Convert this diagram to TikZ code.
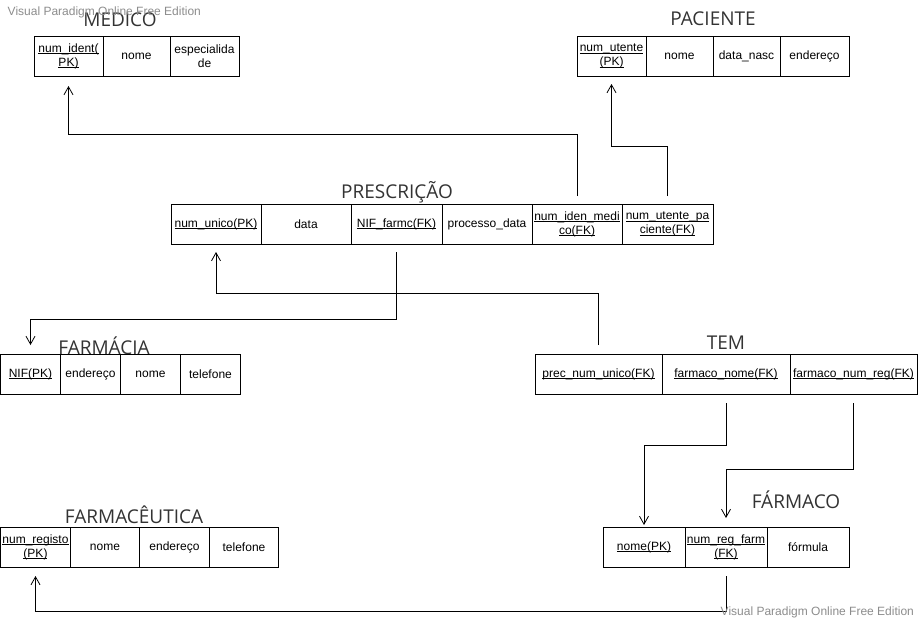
\documentclass[tikz,border=0pt]{standalone}
\usepackage{fontspec}
\setmainfont{Liberation Sans}
\newfontfamily\titlefont{Open Sans}
\usepackage{tikz}
\usetikzlibrary{positioning, arrows.meta}

\newsavebox\ukeybox
\newcommand{\ukey}[1]{\sbox\ukeybox{#1}\usebox\ukeybox\llap{\rule[-1.8pt]{\wd\ukeybox}{0.6pt}}}

\begin{document}
\begin{tikzpicture}[x=1pt, y=-1pt, line width=0.8pt,
        >={Straight Barb[length=8pt,width=9pt]},
        cell/.style={draw, outer sep=0pt, inner sep=1pt, minimum height=40pt,
            align=center, font=\fontsize{12}{14}\selectfont},
        etitle/.style={font=\titlefont\fontsize{19}{22}\selectfont, text=black!80},
        fk/.style={->},
        watermark/.style={font=\fontsize{12}{14}\selectfont, text=black!45, anchor=west}]

        \useasboundingbox (0,0) rectangle (918,622);

        % MEDICO
        \node[etitle]                                       (tmed)  at (120,20)  {MEDICO};
        \node[cell, minimum width=69pt]                     (med1)  at (68.5,56) {\ukey{num\_ident(}\\\ukey{PK)}};
        \node[cell, minimum width=67pt, right=0pt of med1]  (med2)  {nome};
        \node[cell, minimum width=69pt, right=0pt of med2]  (med3)  {especialida\\de};

        % PACIENTE
        \node[etitle]                                       (tpac)  at (713,19)  {PACIENTE};
        \node[cell, minimum width=69pt]                     (pac1)  at (611.5,56) {\ukey{num\_utente}\\\ukey{(PK)}};
        \node[cell, minimum width=67pt, right=0pt of pac1]  (pac2)  {nome};
        \node[cell, minimum width=67pt, right=0pt of pac2]  (pac3)  {data\_nasc};
        \node[cell, minimum width=69pt, right=0pt of pac3]  (pac4)  {endereço};

        % PRESCRICAO
        \node[etitle]                                       (tpr)   at (397,192) {PRESCRIÇÃO};
        \node[cell, minimum width=90pt]                     (pr1)   at (216,224) {\ukey{num\_unico(PK)}};
        \node[cell, minimum width=90pt, right=0pt of pr1]   (pr2)   {data};
        \node[cell, minimum width=91pt, right=0pt of pr2]   (pr3)   {\ukey{NIF\_farmc(FK)}};
        \node[cell, minimum width=90pt, right=0pt of pr3]   (pr4)   {processo\_data};
        \node[cell, minimum width=90pt, right=0pt of pr4]   (pr5)   {\ukey{num\_iden\_medi}\\\ukey{co(FK)}};
        \node[cell, minimum width=91pt, right=0pt of pr5]   (pr6)   {\ukey{num\_utente\_pa}\\\ukey{ciente(FK)}};

        % FARMACIA
        \node[etitle]                                       (tfar)  at (104,346) {FARMÁCIA};
        \node[cell, minimum width=60pt]                     (far1)  at (30.5,374) {\ukey{NIF(PK)}};
        \node[cell, minimum width=60pt, right=0pt of far1]  (far2)  {endereço};
        \node[cell, minimum width=60pt, right=0pt of far2]  (far3)  {nome};
        \node[cell, minimum width=60pt, right=0pt of far3]  (far4)  {telefone};

        % TEM
        \node[etitle]                                       (ttem)  at (726,343) {TEM};
        \node[cell, minimum width=127pt]                    (tem1)  at (598.5,374) {\ukey{prec\_num\_unico(FK)}};
        \node[cell, minimum width=128pt, right=0pt of tem1] (tem2)  {\ukey{farmaco\_nome(FK)}};
        \node[cell, minimum width=127pt, right=0pt of tem2] (tem3)  {\ukey{farmaco\_num\_reg(FK)}};

        % FARMACEUTICA
        \node[etitle]                                       (tfce)  at (134,515) {FARMACÊUTICA};
        \node[cell, minimum width=70pt]                     (fce1)  at (35.5,547) {\ukey{num\_registo}\\\ukey{(PK)}};
        \node[cell, minimum width=69pt, right=0pt of fce1]  (fce2)  {nome};
        \node[cell, minimum width=70pt, right=0pt of fce2]  (fce3)  {endereço};
        \node[cell, minimum width=69pt, right=0pt of fce3]  (fce4)  {telefone};

        % FARMACO
        \node[etitle]                                       (tfmc)  at (796,500) {FÁRMACO};
        \node[cell, minimum width=82pt]                     (fmc1)  at (644,547) {\ukey{nome(PK)}};
        \node[cell, minimum width=82pt, right=0pt of fmc1]  (fmc2)  {\ukey{num\_reg\_farm}\\\ukey{(FK)}};
        \node[cell, minimum width=82pt, right=0pt of fmc2]  (fmc3)  {fórmula};

        % ligacoes
        \draw[fk] ([yshift=8pt]pr5.north)   -- ++(0,-62) -| ([yshift=-10pt]med1.south);
        \draw[fk] ([yshift=8pt]pr6.north)   -- ++(0,-50) -| ([yshift=-8pt]pac1.south);
        \draw[fk] ([yshift=9pt]tem1.north)  -- ++(0,-52) -| ([yshift=-8pt]pr1.south);
        \draw[fk] ([yshift=-8pt]pr3.south)  -- ++(0,67)  -| ([yshift=9pt]far1.north);
        \draw[fk] ([yshift=-9pt]tem2.south) -- ++(0,42)  -| ([yshift=2pt]fmc1.north);
        \draw[fk] ([yshift=-9pt]tem3.south) -- ++(0,66)  -| ([yshift=9pt]fmc2.north);
        \draw[fk] ([yshift=-9pt]fmc2.south) -- ++(0,35)  -| ([yshift=-9pt]fce1.south);

        % marcas de agua
        \node[watermark] (wm1) at (4,12)  {Visual Paradigm Online Free Edition};
        \node[watermark] (wm2) at (717,612) {Visual Paradigm Online Free Edition};

    \end{tikzpicture}
\end{document}
